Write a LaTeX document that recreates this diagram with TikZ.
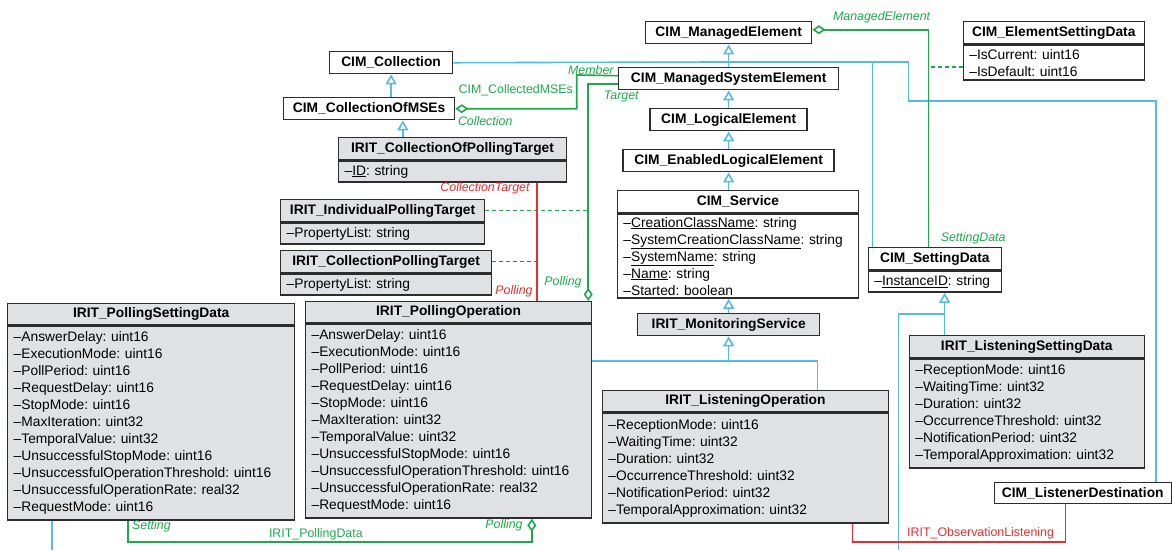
\documentclass[tikz,border=0pt]{standalone}
\usepackage{fontspec}
\setmainfont{Liberation Sans}
\usetikzlibrary{arrows.meta,positioning}
\frenchspacing

\definecolor{umlblue}{RGB}{85,185,235}
\definecolor{umlgreen}{RGB}{30,170,75}
\definecolor{umlred}{RGB}{235,45,45}
\definecolor{umlgray}{RGB}{224,225,228}
\definecolor{umlline}{RGB}{45,45,45}

\begin{document}
\begin{tikzpicture}[
  x=1pt, y=-1pt,
  cls/.style={draw=umlline, line width=1.5pt, fill=white, font=\fontsize{13.8}{17}\selectfont\bfseries, minimum height=22pt, inner sep=2pt},
  irit/.style={cls, fill=umlgray},
  attrs/.style 2 args={draw=umlline, line width=1.5pt, fill=umlgray, font=\fontsize{13.8}{17}\selectfont, align=left, text width=#1, minimum height=#2, inner xsep=6pt, inner ysep=0pt},
  blueln/.style={umlblue, line width=1.6pt},
  gen/.style={blueln, -{Triangle[open, length=10pt, width=11pt]}},
  agg/.style={umlgreen, line width=1.6pt, {Diamond[open, length=13pt, width=9pt]}-},
  redln/.style={umlred, line width=1.6pt},
  assocg/.style={umlgreen, line width=1.6pt, dash pattern=on 4pt off 3pt},
  assocr/.style={umlred, line width=1.6pt, dash pattern=on 4pt off 3pt},
  lbl/.style={font=\fontsize{12.4}{14}\selectfont\itshape, inner sep=1pt},
  rlbl/.style={font=\fontsize{12.4}{14}\selectfont, inner sep=1pt}
]
\fill[white] (0,0) rectangle (1172,550);

% CIM hierarchy
\node[cls, minimum width=166pt, anchor=north] (me) at (729,21) {CIM\_ManagedElement};
\node[cls, minimum width=220pt, anchor=north] (mse) at (729,67) {CIM\_ManagedSystemElement};
\node[cls, minimum width=157pt, anchor=north] (le) at (729,108) {CIM\_LogicalElement};
\node[cls, minimum width=211pt, anchor=north] (ele) at (729,149) {CIM\_EnabledLogicalElement};
\node[cls, minimum width=241pt, anchor=north west] (svc) at (617,190) {CIM\_Service};
\node[attrs={229pt}{84pt}, fill=white, below=0pt of svc] (svca) {--\underline{CreationClassName}: string\\--\underline{SystemCreationClassName}: string\\--\underline{SystemName}: string\\--\underline{Name}: string\\--Started: boolean};
\node[irit, minimum width=182pt, anchor=north] (mon) at (729,313) {IRIT\_MonitoringService};

% collections
\node[cls, minimum width=123pt, anchor=north west] (coll) at (329,51) {CIM\_Collection};
\node[cls, minimum width=171pt, anchor=north west] (cmse) at (283,97) {CIM\_CollectionOfMSEs};
\node[irit, minimum width=228pt, anchor=north west] (cpt) at (338,137) {IRIT\_CollectionOfPollingTarget};
\node[attrs={216pt}{21pt}, below=0pt of cpt] (cpta) {--\underline{ID}: string};
\node[irit, minimum width=204pt, anchor=north west] (ipt) at (280,199) {IRIT\_IndividualPollingTarget};
\node[attrs={192pt}{21pt}, below=0pt of ipt] (ipta) {--PropertyList: string};
\node[irit, minimum width=211pt, anchor=north west] (cplt) at (280,250) {IRIT\_CollectionPollingTarget};
\node[attrs={199pt}{21pt}, below=0pt of cplt] (cplta) {--PropertyList: string};

% polling
\node[irit, minimum width=287pt, minimum height=21pt, anchor=north west] (psd) at (7,303) {IRIT\_PollingSettingData};
\node[attrs={275pt}{194pt}, below=0pt of psd] (psda) {--AnswerDelay: uint16\\--ExecutionMode: uint16\\--PollPeriod: uint16\\--RequestDelay: uint16\\--StopMode: uint16\\--MaxIteration: uint32\\--TemporalValue: uint32\\--UnsuccessfulStopMode: uint16\\--UnsuccessfulOperationThreshold: uint16\\--UnsuccessfulOperationRate: real32\\--RequestMode: uint16};
\node[irit, minimum width=286pt, minimum height=21pt, anchor=north west] (pop) at (305,301) {IRIT\_PollingOperation};
\node[attrs={274pt}{194pt}, below=0pt of pop] (popa) {--AnswerDelay: uint16\\--ExecutionMode: uint16\\--PollPeriod: uint16\\--RequestDelay: uint16\\--StopMode: uint16\\--MaxIteration: uint32\\--TemporalValue: uint32\\--UnsuccessfulStopMode: uint16\\--UnsuccessfulOperationThreshold: uint16\\--UnsuccessfulOperationRate: real32\\--RequestMode: uint16};

% listening
\node[irit, minimum width=286pt, minimum height=21pt, anchor=north west] (lop) at (602,390) {IRIT\_ListeningOperation};
\node[attrs={274pt}{110pt}, below=0pt of lop] (lopa) {--ReceptionMode: uint16\\--WaitingTime: uint32\\--Duration: uint32\\--OccurrenceThreshold: uint32\\--NotificationPeriod: uint32\\--TemporalApproximation: uint32};
\node[irit, minimum width=235pt, anchor=north west] (lsd) at (909,335) {IRIT\_ListeningSettingData};
\node[attrs={223pt}{109pt}, below=0pt of lsd] (lsda) {--ReceptionMode: uint16\\--WaitingTime: uint32\\--Duration: uint32\\--OccurrenceThreshold: uint32\\--NotificationPeriod: uint32\\--TemporalApproximation: uint32};
\node[cls, minimum width=177pt, minimum height=21pt, anchor=north west] (ld) at (994,482) {CIM\_ListenerDestination};

% setting data
\node[cls, minimum width=133pt, anchor=north west] (sd) at (868,247) {CIM\_SettingData};
\node[attrs={121pt}{21pt}, fill=white, below=0pt of sd] (sda) {--\underline{InstanceID}: string};
\node[cls, minimum width=181pt, anchor=north west] (esd) at (963,21) {CIM\_ElementSettingData};
\node[attrs={169pt}{35pt}, fill=white, below=0pt of esd] (esda) {--IsCurrent: uint16\\--IsDefault: uint16};

% inheritance
\coordinate (jme) at (729,62);
\coordinate (jmon) at (729,361);
\coordinate (jsd) at (945,314);
\coordinate (psdout) at (52,550);
\coordinate (sdout) at (899,550);
\draw[gen] (mse) -- (me);
\draw[gen] (le) -- (mse);
\draw[gen] (ele) -- (le);
\draw[gen] (ele.south |- svc.north) -- (ele.south);
\draw[gen] (mon) -- (mon.north |- svca.south);
\draw[blueln] (coll.east) -- (jme);
\draw[blueln] ([xshift=5pt]sd.north west) |- (jme);
\draw[blueln] ([xshift=-16pt]ld.north east) |- (909,101) |- (jme);
\draw[gen] (coll.south |- cmse.north) -- (coll.south);
\draw[gen] (403,0 |- cpt.north) -- (403,0 |- cmse.south);
\draw[gen] (jmon) -- (mon.south);
\draw[blueln] (popa.east |- jmon) -- (jmon) -| (818,0 |- lop.north);
\draw[gen] (jsd) -- (945,0 |- sda.south);
\draw[blueln] (945,0 |- lsd.north) -- (jsd) -| (sdout);
\draw[blueln] (52,0 |- psda.south) -- (psdout);

% associations
\coordinate (pl) at ([xshift=-4pt]pop.north east);
\coordinate (esdw) at ([yshift=-4pt]esda.west);
\draw[agg] (cmse.east) -| (577,75) -- ([yshift=3pt]mse.west);
\draw[agg] (pl) |- ([yshift=-5pt]mse.west);
\draw[assocg] (ipt.east) -- (ipt.east -| pl);
\draw[redln] (537,0 |- cpta.south) -- (537,0 |- pop.north);
\draw[assocr] (cplt.east) -- (537,0 |- cplt.east);
\draw[agg] ([yshift=3pt]me.east) -| (929,0 |- sd.north);
\draw[assocg] (esdw) -- (929,0 |- esdw);
\draw[agg] (532,0 |- popa.south) -- (532,542) -| (128,0 |- psda.south);
\draw[redln] (853,0 |- lopa.south) -- (853,542) -| (1066,0 |- ld.south);

% role labels
\node[rlbl, text=umlgreen] (lcms) at (516,90) {CIM\_CollectedMSEs};
\node[lbl, text=umlgreen, anchor=west] (lcoll) at (457,121) {Collection};
\node[lbl, text=umlgreen, anchor=east] (lmem) at (615,70) {Member};
\node[lbl, text=umlgreen, anchor=west] (ltgt) at (603,97) {Target};
\node[lbl, text=umlred, anchor=east] (lct) at (531,188) {CollectionTarget};
\node[lbl, text=umlred, anchor=east] (lpr) at (534,291) {Polling};
\node[lbl, text=umlgreen, anchor=east] (lpg) at (583,282) {Polling};
\node[lbl, text=umlgreen] (lme) at (882,17) {ManagedElement};
\node[lbl, text=umlgreen, anchor=west] (lsdt) at (940,238) {SettingData};
\node[lbl, text=umlgreen, anchor=west] (lset) at (131,527) {Setting};
\node[rlbl, text=umlgreen] (lpd) at (316,535) {IRIT\_PollingData};
\node[lbl, text=umlgreen, anchor=east] (lpb) at (524,526) {Polling};
\node[rlbl, text=umlred] (lol) at (981,534) {IRIT\_ObservationListening};
\end{tikzpicture}
\end{document}
